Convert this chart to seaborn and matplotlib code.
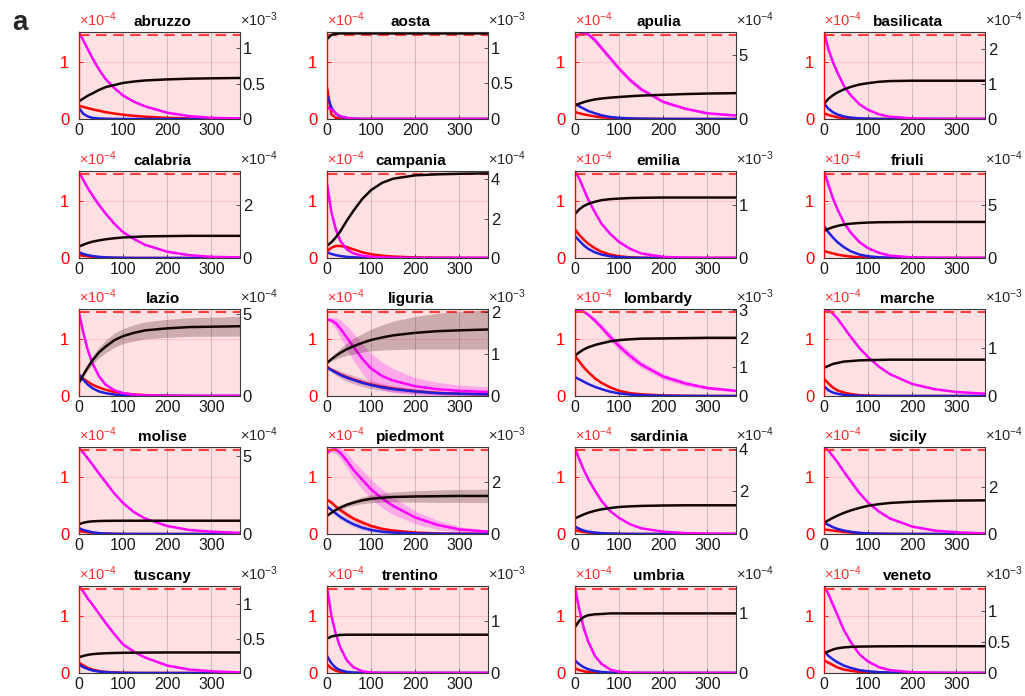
import numpy as np
import pandas as pd
import matplotlib
matplotlib.use("Agg")
import matplotlib.pyplot as plt
import seaborn as sns

sns.set_style("ticks")
plt.rcParams["font.family"] = ["Liberation Sans", "DejaVu Sans"]
plt.rcParams["mathtext.fontset"] = "custom"
plt.rcParams["mathtext.rm"] = "Liberation Sans"
plt.rcParams["mathtext.it"] = "Liberation Sans:italic"
plt.rcParams["mathtext.default"] = "regular"

# ---------------- data ----------------
DAYS = [0, 10, 20, 30, 45, 60, 80, 100, 125, 150, 200, 250, 300, 365]

REGIONS = ["abruzzo", "aosta", "apulia", "basilicata",
           "calabria", "campania", "emilia", "friuli",
           "lazio", "liguria", "lombardy", "marche",
           "molise", "piedmont", "sardinia", "sicily",
           "tuscany", "trentino", "umbria", "veneto"]

# left axis (x 1e-4)
MAGENTA = {
    "abruzzo":    [1.52, 1.37, 1.22, 1.07, 0.87, 0.70, 0.54, 0.41, 0.30, 0.22, 0.11, 0.05, 0.02, 0.01],
    "aosta":      [0.20, 0.17, 0.10, 0.05, 0.02, 0.005, 0, 0, 0, 0, 0, 0, 0, 0],
    "apulia":     [1.42, 1.48, 1.50, 1.48, 1.38, 1.24, 1.06, 0.88, 0.68, 0.52, 0.30, 0.18, 0.10, 0.06],
    "basilicata": [1.52, 1.22, 1.00, 0.82, 0.58, 0.42, 0.26, 0.16, 0.08, 0.04, 0.01, 0.003, 0, 0],
    "calabria":   [1.50, 1.36, 1.22, 1.10, 0.93, 0.78, 0.60, 0.45, 0.33, 0.23, 0.11, 0.05, 0.02, 0.01],
    "campania":   [1.30, 0.80, 0.50, 0.30, 0.15, 0.08, 0.04, 0.02, 0.01, 0.005, 0, 0, 0, 0],
    "emilia":     [1.52, 1.38, 1.20, 1.02, 0.80, 0.60, 0.42, 0.28, 0.16, 0.08, 0.02, 0.005, 0, 0],
    "friuli":     [1.52, 1.28, 1.05, 0.86, 0.62, 0.45, 0.28, 0.17, 0.09, 0.04, 0.01, 0.002, 0, 0],
    "lazio":      [1.45, 1.10, 0.80, 0.58, 0.35, 0.20, 0.10, 0.05, 0.02, 0.01, 0.002, 0, 0, 0],
    "liguria":    [1.34, 1.32, 1.27, 1.18, 1.02, 0.86, 0.65, 0.48, 0.35, 0.27, 0.17, 0.12, 0.09, 0.07],
    "lombardy":   [1.50, 1.50, 1.47, 1.42, 1.32, 1.20, 1.03, 0.87, 0.70, 0.55, 0.34, 0.22, 0.14, 0.09],
    "marche":     [1.52, 1.50, 1.44, 1.36, 1.20, 1.04, 0.84, 0.68, 0.51, 0.38, 0.21, 0.12, 0.07, 0.04],
    "molise":     [1.50, 1.42, 1.32, 1.22, 1.06, 0.91, 0.71, 0.54, 0.38, 0.27, 0.14, 0.07, 0.04, 0.02],
    "piedmont":   [1.42, 1.47, 1.48, 1.42, 1.28, 1.12, 0.95, 0.78, 0.62, 0.49, 0.29, 0.16, 0.08, 0.04],
    "sardinia":   [1.50, 1.30, 1.12, 0.96, 0.76, 0.58, 0.40, 0.28, 0.17, 0.10, 0.04, 0.015, 0.005, 0],
    "sicily":     [1.52, 1.46, 1.36, 1.26, 1.09, 0.93, 0.72, 0.55, 0.39, 0.27, 0.13, 0.06, 0.03, 0.01],
    "tuscany":    [1.52, 1.42, 1.30, 1.20, 1.04, 0.88, 0.68, 0.50, 0.37, 0.27, 0.13, 0.06, 0.03, 0.01],
    "trentino":   [1.50, 1.00, 0.68, 0.45, 0.22, 0.10, 0.03, 0.01, 0, 0, 0, 0, 0, 0],
    "umbria":     [1.50, 1.10, 0.78, 0.55, 0.30, 0.16, 0.06, 0.02, 0.005, 0, 0, 0, 0, 0],
    "veneto":     [1.52, 1.38, 1.20, 1.02, 0.75, 0.55, 0.33, 0.20, 0.10, 0.05, 0.012, 0.003, 0, 0],
}

RED = {
    "abruzzo":    [0.23, 0.21, 0.19, 0.17, 0.145, 0.12, 0.095, 0.075, 0.055, 0.04, 0.02, 0.01, 0.005, 0.002],
    "aosta":      [0.55, 0.08, 0.02, 0.005, 0, 0, 0, 0, 0, 0, 0, 0, 0, 0],
    "apulia":     [0.12, 0.10, 0.08, 0.065, 0.045, 0.03, 0.02, 0.012, 0.007, 0.004, 0.001, 0, 0, 0],
    "basilicata": [0.10, 0.07, 0.05, 0.03, 0.015, 0.008, 0.003, 0.001, 0, 0, 0, 0, 0, 0],
    "calabria":   [0.05, 0.04, 0.03, 0.02, 0.012, 0.007, 0.003, 0.001, 0, 0, 0, 0, 0, 0],
    "campania":   [0.12, 0.18, 0.21, 0.21, 0.19, 0.15, 0.10, 0.065, 0.04, 0.025, 0.01, 0.004, 0.002, 0],
    "emilia":     [0.50, 0.40, 0.32, 0.25, 0.17, 0.11, 0.06, 0.03, 0.012, 0.005, 0.001, 0, 0, 0],
    "friuli":     [0.12, 0.10, 0.08, 0.06, 0.04, 0.025, 0.012, 0.006, 0.002, 0, 0, 0, 0, 0],
    "lazio":      [0.35, 0.30, 0.25, 0.20, 0.15, 0.11, 0.07, 0.045, 0.025, 0.015, 0.005, 0.002, 0, 0],
    "liguria":    [0.51, 0.46, 0.42, 0.38, 0.33, 0.29, 0.24, 0.20, 0.16, 0.13, 0.085, 0.055, 0.04, 0.03],
    "lombardy":   [0.70, 0.60, 0.50, 0.42, 0.31, 0.23, 0.15, 0.09, 0.05, 0.03, 0.01, 0.003, 0.001, 0],
    "marche":     [0.30, 0.22, 0.15, 0.10, 0.06, 0.035, 0.015, 0.007, 0.002, 0, 0, 0, 0, 0],
    "molise":     [0.05, 0.04, 0.03, 0.02, 0.012, 0.007, 0.003, 0.001, 0, 0, 0, 0, 0, 0],
    "piedmont":   [0.60, 0.55, 0.48, 0.42, 0.34, 0.27, 0.20, 0.14, 0.09, 0.06, 0.025, 0.01, 0.005, 0.002],
    "sardinia":   [0.07, 0.05, 0.035, 0.025, 0.015, 0.008, 0.004, 0.002, 0, 0, 0, 0, 0, 0],
    "sicily":     [0.08, 0.07, 0.06, 0.05, 0.035, 0.025, 0.015, 0.008, 0.004, 0.002, 0, 0, 0, 0],
    "tuscany":    [0.18, 0.13, 0.09, 0.06, 0.035, 0.02, 0.01, 0.005, 0.002, 0, 0, 0, 0, 0],
    "trentino":   [0.15, 0.08, 0.04, 0.02, 0.006, 0.002, 0, 0, 0, 0, 0, 0, 0, 0],
    "umbria":     [0.08, 0.05, 0.03, 0.015, 0.006, 0.002, 0, 0, 0, 0, 0, 0, 0, 0],
    "veneto":     [0.22, 0.18, 0.14, 0.10, 0.06, 0.04, 0.02, 0.01, 0.004, 0.001, 0, 0, 0, 0],
}

BLUE = {
    "abruzzo":    [0.19, 0.09, 0.045, 0.02, 0.01, 0.005, 0.002, 0, 0, 0, 0, 0, 0, 0],
    "aosta":      [0.42, 0.20, 0.09, 0.04, 0.015, 0.005, 0, 0, 0, 0, 0, 0, 0, 0],
    "apulia":     [0.27, 0.22, 0.18, 0.14, 0.10, 0.065, 0.035, 0.02, 0.01, 0.005, 0.001, 0, 0, 0],
    "basilicata": [0.27, 0.18, 0.12, 0.08, 0.045, 0.025, 0.012, 0.006, 0.002, 0, 0, 0, 0, 0],
    "calabria":   [0.10, 0.07, 0.05, 0.035, 0.02, 0.012, 0.006, 0.003, 0.001, 0, 0, 0, 0, 0],
    "campania":   [0.10, 0.07, 0.05, 0.035, 0.02, 0.012, 0.006, 0.003, 0.001, 0, 0, 0, 0, 0],
    "emilia":     [0.38, 0.30, 0.22, 0.16, 0.10, 0.06, 0.03, 0.015, 0.006, 0.002, 0, 0, 0, 0],
    "friuli":     [0.56, 0.45, 0.36, 0.28, 0.19, 0.12, 0.06, 0.03, 0.012, 0.005, 0.001, 0, 0, 0],
    "lazio":      [0.38, 0.28, 0.20, 0.14, 0.08, 0.05, 0.025, 0.012, 0.005, 0.002, 0, 0, 0, 0],
    "liguria":    [0.50, 0.45, 0.41, 0.37, 0.32, 0.28, 0.23, 0.19, 0.15, 0.12, 0.08, 0.05, 0.04, 0.03],
    "lombardy":   [0.33, 0.29, 0.25, 0.21, 0.16, 0.12, 0.075, 0.045, 0.025, 0.013, 0.004, 0.001, 0, 0],
    "marche":     [0.17, 0.10, 0.06, 0.04, 0.02, 0.01, 0.005, 0.002, 0, 0, 0, 0, 0, 0],
    "molise":     [0.10, 0.07, 0.05, 0.03, 0.015, 0.008, 0.003, 0.001, 0, 0, 0, 0, 0, 0],
    "piedmont":   [0.48, 0.42, 0.36, 0.30, 0.23, 0.17, 0.11, 0.07, 0.04, 0.025, 0.01, 0.004, 0.002, 0],
    "sardinia":   [0.13, 0.09, 0.06, 0.04, 0.025, 0.015, 0.008, 0.004, 0.001, 0, 0, 0, 0, 0],
    "sicily":     [0.19, 0.16, 0.12, 0.09, 0.06, 0.04, 0.02, 0.01, 0.005, 0.002, 0, 0, 0, 0],
    "tuscany":    [0.15, 0.10, 0.07, 0.045, 0.025, 0.015, 0.007, 0.003, 0.001, 0, 0, 0, 0, 0],
    "trentino":   [0.30, 0.17, 0.09, 0.05, 0.02, 0.008, 0.002, 0, 0, 0, 0, 0, 0, 0],
    "umbria":     [0.22, 0.15, 0.10, 0.065, 0.035, 0.018, 0.007, 0.003, 0.001, 0, 0, 0, 0, 0],
    "veneto":     [0.38, 0.30, 0.24, 0.19, 0.13, 0.09, 0.05, 0.03, 0.015, 0.008, 0.002, 0, 0, 0],
}

# right axis (x 10^RIGHT_EXP)
BLACK = {
    "abruzzo":    [0.25, 0.29, 0.33, 0.36, 0.41, 0.45, 0.48, 0.51, 0.53, 0.545, 0.56, 0.57, 0.575, 0.58],
    "aosta":      [1.12, 1.18, 1.195, 1.2, 1.2, 1.2, 1.2, 1.2, 1.2, 1.2, 1.2, 1.2, 1.2, 1.2],
    "apulia":     [1.05, 1.20, 1.32, 1.42, 1.53, 1.60, 1.67, 1.72, 1.78, 1.83, 1.89, 1.95, 1.99, 2.02],
    "basilicata": [0.44, 0.58, 0.68, 0.76, 0.85, 0.92, 0.99, 1.03, 1.07, 1.09, 1.10, 1.10, 1.10, 1.10],
    "calabria":   [0.43, 0.50, 0.56, 0.61, 0.66, 0.70, 0.74, 0.77, 0.79, 0.81, 0.82, 0.83, 0.83, 0.83],
    "campania":   [0.62, 0.80, 1.05, 1.35, 1.90, 2.40, 3.00, 3.45, 3.82, 4.03, 4.20, 4.25, 4.28, 4.30],
    "emilia":     [0.83, 0.92, 0.98, 1.02, 1.06, 1.09, 1.11, 1.12, 1.13, 1.135, 1.14, 1.14, 1.14, 1.14],
    "friuli":     [2.55, 2.75, 2.90, 3.02, 3.15, 3.23, 3.30, 3.34, 3.37, 3.38, 3.40, 3.40, 3.40, 3.40],
    "lazio":      [0.80, 1.30, 1.75, 2.15, 2.65, 3.00, 3.40, 3.65, 3.85, 4.00, 4.12, 4.20, 4.22, 4.25],
    "liguria":    [0.79, 0.88, 0.96, 1.03, 1.12, 1.19, 1.27, 1.34, 1.40, 1.45, 1.51, 1.55, 1.57, 1.59],
    "lombardy":   [1.40, 1.52, 1.62, 1.69, 1.77, 1.83, 1.90, 1.94, 1.97, 1.99, 2.00, 2.01, 2.02, 2.02],
    "marche":     [0.59, 0.63, 0.67, 0.69, 0.72, 0.73, 0.745, 0.75, 0.755, 0.76, 0.76, 0.76, 0.76, 0.76],
    "molise":     [0.63, 0.72, 0.78, 0.81, 0.83, 0.84, 0.845, 0.85, 0.85, 0.85, 0.85, 0.85, 0.85, 0.85],
    "piedmont":   [0.70, 0.82, 0.93, 1.02, 1.13, 1.21, 1.30, 1.36, 1.40, 1.43, 1.45, 1.46, 1.47, 1.47],
    "sardinia":   [0.73, 0.83, 0.92, 1.00, 1.09, 1.16, 1.22, 1.27, 1.30, 1.32, 1.34, 1.35, 1.35, 1.35],
    "sicily":     [0.47, 0.58, 0.68, 0.77, 0.89, 0.99, 1.10, 1.19, 1.26, 1.31, 1.36, 1.39, 1.41, 1.42],
    "tuscany":    [0.23, 0.25, 0.265, 0.275, 0.283, 0.288, 0.292, 0.295, 0.297, 0.298, 0.30, 0.30, 0.30, 0.30],
    "trentino":   [0.66, 0.70, 0.72, 0.73, 0.735, 0.735, 0.735, 0.735, 0.735, 0.735, 0.735, 0.735, 0.735, 0.735],
    "umbria":     [0.77, 0.88, 0.94, 0.97, 0.985, 0.99, 1.0, 1.0, 1.0, 1.0, 1.0, 1.0, 1.0, 1.0],
    "veneto":     [0.32, 0.35, 0.38, 0.40, 0.415, 0.423, 0.428, 0.43, 0.432, 0.433, 0.434, 0.434, 0.434, 0.434],
}

RIGHT_EXP = {"abruzzo": -3, "aosta": -3, "apulia": -4, "basilicata": -4,
             "calabria": -4, "campania": -4, "emilia": -3, "friuli": -4,
             "lazio": -4, "liguria": -3, "lombardy": -3, "marche": -3,
             "molise": -4, "piedmont": -3, "sardinia": -4, "sicily": -4,
             "tuscany": -3, "trentino": -3, "umbria": -4, "veneto": -3}
RIGHT_TOP = {"abruzzo": 1.23, "aosta": 1.22, "apulia": 6.8, "basilicata": 2.5,
             "calabria": 3.26, "campania": 4.42, "emilia": 1.64, "friuli": 8.2,
             "lazio": 5.3, "liguria": 2.08, "lombardy": 3.02, "marche": 1.82,
             "molise": 5.57, "piedmont": 3.36, "sardinia": 4.09, "sicily": 3.67,
             "tuscany": 1.27, "trentino": 1.67, "umbria": 1.46, "veneto": 1.41}
RIGHT_STEP = {"abruzzo": 0.5, "aosta": 0.5, "apulia": 5, "basilicata": 1,
              "calabria": 2, "campania": 2, "emilia": 1, "friuli": 5,
              "lazio": 5, "liguria": 1, "lombardy": 1, "marche": 1,
              "molise": 5, "piedmont": 2, "sardinia": 2, "sicily": 2,
              "tuscany": 0.5, "trentino": 1, "umbria": 1, "veneto": 0.5}
CAPACITY = 1.46  # dashed reference (x 1e-4)

# uncertainty half-widths
BAND_BLACK = {
    "lazio":    [0, 0.10, 0.18, 0.25, 0.33, 0.38, 0.43, 0.46, 0.50, 0.52, 0.55, 0.57, 0.58, 0.60],
    "liguria":  [0, 0.04, 0.08, 0.11, 0.15, 0.19, 0.22, 0.26, 0.30, 0.34, 0.39, 0.43, 0.45, 0.47],
    "piedmont": [0, 0.03, 0.05, 0.07, 0.09, 0.11, 0.13, 0.15, 0.17, 0.19, 0.22, 0.24, 0.25, 0.26],
    "lombardy": [0, 0.01, 0.02, 0.02, 0.03, 0.03, 0.03, 0.03, 0.03, 0.03, 0.03, 0.03, 0.03, 0.03],
}
BAND_MAGENTA = {
    "apulia":   [0.01, 0.02, 0.03, 0.04, 0.05, 0.05, 0.05, 0.05, 0.05, 0.04, 0.03, 0.02, 0.02, 0.01],
    "liguria":  [0.02, 0.05, 0.10, 0.15, 0.20, 0.24, 0.26, 0.26, 0.24, 0.21, 0.15, 0.12, 0.10, 0.09],
    "lombardy": [0.0, 0.01, 0.02, 0.03, 0.05, 0.06, 0.07, 0.07, 0.07, 0.06, 0.05, 0.04, 0.03, 0.02],
    "piedmont": [0.02, 0.04, 0.07, 0.10, 0.13, 0.15, 0.17, 0.17, 0.16, 0.15, 0.11, 0.08, 0.05, 0.03],
}
BAND_LOW = {
    "liguria":  [0.01, 0.03, 0.05, 0.06, 0.07, 0.07, 0.07, 0.07, 0.06, 0.05, 0.04, 0.03, 0.03, 0.02],
    "piedmont": [0.01, 0.03, 0.04, 0.05, 0.05, 0.05, 0.05, 0.04, 0.03, 0.03, 0.02, 0.01, 0.01, 0.005],
}

# ---------------- drawing ----------------
W, H = 1025, 696
fig = plt.figure(figsize=(W / 100, H / 100), dpi=100)

COL_LEFT = [79, 327, 575, 824]
ROW_TOP = [32, 171, 309, 447, 586]
AX_W, AX_H = 161, 87

C_MAG, C_RED, C_BLUE, C_BLK = "#FF00FF", "#FF0000", "#2020DD", "#140606"
PINK = "#FFE1E3"
FRAME = "#3a3a3a"
FS = 11

days = np.array(DAYS)

for i, reg in enumerate(REGIONS):
    r, c = divmod(i, 4)
    ax = fig.add_axes([COL_LEFT[c] / W, 1 - (ROW_TOP[r] + AX_H) / H, AX_W / W, AX_H / H])
    ax.set_facecolor(PINK)
    ax.set_axisbelow(True)

    # bands
    if reg in BAND_MAGENTA:
        m = np.array(MAGENTA[reg]); b = np.array(BAND_MAGENTA[reg])
        ax.fill_between(days, np.clip(m - b, 0, None), m + b, color=C_MAG, alpha=0.25, lw=0)
    if reg in BAND_LOW:
        b = np.array(BAND_LOW[reg])
        for arr, col in ((RED[reg], C_RED), (BLUE[reg], C_BLUE)):
            a = np.array(arr)
            ax.fill_between(days, np.clip(a - b, 0, None), a + b, color=col, alpha=0.15, lw=0)

    df = pd.DataFrame({
        "day": DAYS * 3,
        "value": RED[reg] + BLUE[reg] + MAGENTA[reg],
        "curve": ["red"] * len(DAYS) + ["blue"] * len(DAYS) + ["magenta"] * len(DAYS),
    })
    sns.lineplot(data=df, x="day", y="value", hue="curve",
                 palette={"red": C_RED, "blue": C_BLUE, "magenta": C_MAG},
                 hue_order=["red", "blue", "magenta"], legend=False,
                 linewidth=1.8, ax=ax)
    ax.axhline(CAPACITY, color="#FF3B3B", lw=1.5, ls=(0, (5, 3.2)), zorder=3)

    ax.set_xlim(0, 365)
    ax.set_ylim(0, 1.52)
    ax.set_xticks([0, 100, 200, 300])
    ax.set_yticks([0, 1])
    ax.set_xlabel("")
    ax.set_ylabel("")
    ax.grid(axis="x", color="k", alpha=0.16, lw=0.8)
    ax.grid(axis="y", color="red", alpha=0.12, lw=0.8)
    ax.tick_params(axis="y", colors="red", direction="in", length=3, width=0.6,
                   labelsize=FS + 1, pad=7)
    ax.tick_params(axis="x", colors=FRAME, labelcolor="#1a1a1a", direction="in",
                   length=3, width=0.6, labelsize=FS + 0.5, pad=3)
    for s in ("top", "right", "bottom"):
        ax.spines[s].set_visible(False)
    ax.spines["left"].set_color("red")

    # right axis
    ax2 = ax.twinx()
    if reg in BAND_BLACK:
        k = np.array(BLACK[reg]); b = np.array(BAND_BLACK[reg])
        ax2.fill_between(days, k - b, k + b, color="#3a1010", alpha=0.25, lw=0)
    sns.lineplot(x=DAYS, y=BLACK[reg], color=C_BLK, linewidth=1.8, ax=ax2)
    top = RIGHT_TOP[reg]
    step = RIGHT_STEP[reg]
    ax2.set_ylim(0, top)
    ticks = np.arange(0, top + 1e-9, step)
    ax2.set_yticks(ticks)
    ax2.set_yticklabels([f"{t:g}" for t in ticks])
    ax2.set_xlim(0, 365)
    ax2.tick_params(axis="y", colors=FRAME, labelcolor="#1a1a1a", direction="in",
                    length=3, width=0.6, labelsize=FS + 1, pad=2)
    ax2.spines["left"].set_color("red")
    ax2.spines["left"].set_linewidth(0.9)
    for s in ("top", "right", "bottom"):
        ax2.spines[s].set_color(FRAME)
        ax2.spines[s].set_linewidth(0.8)

    ax.text(0.0, 1.04, r"$\times10^{-4}$", transform=ax.transAxes, color="#FF3030",
            ha="left", va="bottom", fontsize=10.5)
    ax2.text(1.0, 1.04, r"$\times10^{%d}$" % RIGHT_EXP[reg], transform=ax.transAxes,
             color="#262626", ha="left", va="bottom", fontsize=10.5)
    ax2.text(0.52, 1.04, reg, transform=ax.transAxes, ha="center", va="bottom",
             fontsize=FS, fontweight="bold", color="black")

fig.text(12 / W, 1 - 30 / H, "a", fontsize=20, fontweight="bold", ha="left", va="baseline")

fig.savefig("out.png", dpi=100)
